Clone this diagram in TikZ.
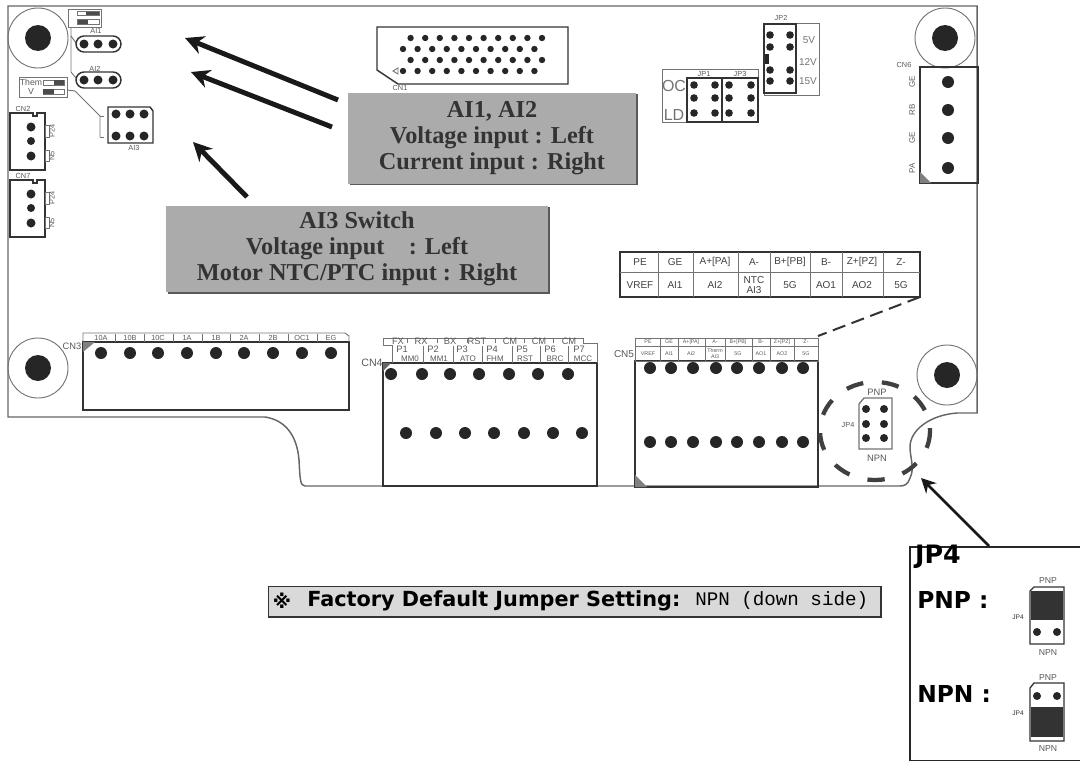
\documentclass[tikz,border=0pt]{standalone}
\usepackage{fontspec}
\setmainfont{Liberation Sans}
\newfontfamily\calloutfont{Liberation Serif}
\newfontfamily\headfont{DejaVu Sans}
\newfontfamily\plainfont{Liberation Mono}
\usetikzlibrary{arrows.meta}
\tikzset{
  trace/.style={draw=black!80, line width=1.1},
  thintrace/.style={draw=black!55, line width=0.7},
  pin/.style={fill=black!85},
  bigarrow/.style={draw=black!90, line width=3.7, -{Stealth[length=14, width=14]}},
  callout/.style={fill=black!33, text=black!80, font=\calloutfont\bfseries\fontsize{18.2}{19.5}\selectfont, align=center, inner sep=0},
  tiny/.style={text=black!65, inner sep=0, font=\fontsize{5.5}{6}\selectfont, align=center},
  cell/.style={text=black!75, inner sep=0, font=\fontsize{7.5}{8}\selectfont, align=center},
  heavy/.style={text=black, inner sep=0, font=\headfont\bfseries\fontsize{17.5}{21}\selectfont}
}
\begin{document}
\begin{tikzpicture}[x=0.75pt,y=0.75pt,yscale=-1,xscale=1]
\useasboundingbox (0,0) rectangle (1080,760);

%Board outline
\draw [trace, draw=black!60]  (8,6) -- (977,6) -- (977,413) -- (957,413) .. controls (930,415) and (910,430) .. (910,447) .. controls (910,458) and (915,468) .. (910,478) .. controls (908,484) and (905,486) .. (900,486) -- (305,486) .. controls (300,486) and (300,478) .. (299,460) .. controls (297,435) and (285,420) .. (265,417) -- (8,417) -- cycle ;

%Mounting holes
\foreach \x/\y in {38/38, 945/38, 38/368, 947/375} {
  \draw [thintrace] (\x,\y) circle [radius=30];
  \fill [pin] (\x,\y) circle [radius=13];
}

%Analog switches, top left
\draw [thintrace] (68,9) rectangle (101,27);
\fill [black!70] (86,11) rectangle (99,15);
\fill [black!70] (77,19) rectangle (88,24);
\draw [thintrace] (77,11) rectangle (99,15);
\draw [thintrace] (77,19) rectangle (99,24);
\draw [thintrace] (71,27) -- (71,72) -- (76,78);
\draw [thintrace] (71,36) -- (76,43);
\draw [trace, rounded corners=6] (76,36) rectangle (121,52);
\draw [trace, rounded corners=6] (76,72) rectangle (121,88);
\foreach \x in {84,98,113} {
  \fill [pin] (\x,44) circle [radius=4.5];
  \fill [pin] (\x,80) circle [radius=4.5];
}
\node (ai1label) [tiny] at (96,31) {AI1};
\node (ai2label) [tiny] at (95,69) {AI2};

%Therm switch and AI3
\draw [thintrace] (19,77) rectangle (67,97);
\node (thermlabel) [tiny, font=\fontsize{6.5}{6.5}\selectfont] at (31,87) {Them\\V};
\draw [thintrace] (43,80) rectangle (64,85);
\draw [thintrace] (43,89) rectangle (64,94);
\fill [black!70] (54,80) rectangle (64,85);
\fill [black!70] (43,89) rectangle (54,94);
\draw [thintrace] (67,90) -- (75,91) -- (100,116) -- (100,137);
\draw [thintrace] (100,116) -- (104,116);
\draw [thintrace] (100,137) -- (104,137);
\draw [trace] (108,107) -- (150,107) -- (153,111) -- (153,143) -- (108,143) -- cycle;
\foreach \x in {116,130,144} {
  \fill [pin] (\x,114) circle [radius=4.5];
  \fill [pin] (\x,136) circle [radius=4.5];
}
\node (ai3label) [tiny] at (134,148) {AI3};

%CN2 and CN7
\foreach \y/\t in {113/CN2, 180/CN7} {
  \draw [trace] (10,\y) -- (33,\y) -- (33,\y+3) -- (37,\y+3) -- (37,\y) -- (45,\y) -- (45,\y+57) -- (10,\y+57) -- cycle;
  \draw [thintrace] (45,\y+12) rectangle (49,\y+24);
  \draw [thintrace] (45,\y+37) rectangle (49,\y+48);
  \fill [pin] (31,\y+14) circle [radius=4.5];
  \fill [pin] (31,\y+28) circle [radius=4];
  \fill [pin] (31,\y+43) circle [radius=4.5];
  \node (label\t) [tiny] at (23,\y-4) {\t};
  \node (upper\t) [tiny, rotate=90] at (52,\y+18) {P24};
  \node (lower\t) [tiny, rotate=90] at (52,\y+43) {N5};
}

%CN1
\draw [trace] (377,27) -- (568,27) -- (568,84) -- (398,84) -- (377,70) -- cycle;
\foreach \n in {0,...,9} {
  \fill [pin] (410.6+14.6*\n,38) circle [radius=3.2];
  \fill [pin] (403+14.6*\n,49) circle [radius=3.2];
  \fill [pin] (410.6+14.6*\n,60) circle [radius=3.2];
  \fill [pin] (403+14.6*\n,71) circle [radius=3.2];
}
\draw [thintrace] (393,71) -- (398,68) -- (398,74) -- cycle;
\node (cn1label) [tiny] at (400,88) {CN1};

%JP1 and JP3
\draw [thintrace] (662,69) rectangle (758,122);
\draw [trace] (687,78) rectangle (722,122);
\draw [trace] (722,78) rectangle (758,122);
\foreach \x in {694,715,729,751} {
  \foreach \y in {85,98,113} {
    \fill [pin] (\x,\y) circle [radius=3.8];
  }
}
\node (oclabel) [text=black!55, inner sep=0, font=\fontsize{12}{12}\selectfont] at (674,86) {OC};
\node (ldlabel) [text=black!55, inner sep=0, font=\fontsize{12}{12}\selectfont] at (674,115) {LD};
\node (jp1label) [tiny] at (704,74) {JP1};
\node (jp3label) [tiny] at (740,74) {JP3};

%JP2
\draw [thintrace] (764,23) rectangle (819,95);
\draw [trace] (764,24) rectangle (796,93);
\foreach \x in {770,790} {
  \foreach \y in {35,47,70,81} {
    \fill [pin] (\x,\y) circle [radius=3.8];
  }
}
\fill [black!85] (765,54) rectangle (769,64);
\node (jp2label) [tiny] at (781,18) {JP2};
\node (v5label) [cell, text=black!55] at (809,40) {5V};
\node (v12label) [cell, text=black!55] at (808,62) {12V};
\node (v15label) [cell, text=black!55] at (808,81) {15V};

%CN6
\draw [trace] (920,67) rectangle (978,183);
\fill [black!50] (920,172) -- (931,183) -- (920,183) -- cycle;
\foreach \y/\t in {82/GE, 110/RB, 138/GE, 168/PA} {
  \fill [pin] (948,\y) circle [radius=6];
  \node (label\y) [tiny, rotate=90, font=\fontsize{6}{6}\selectfont] at (912,\y) {\t};
}
\node (cn6label) [tiny] at (904,65) {CN6};

%CN3
\draw [trace] (83,342) rectangle (349,410);
\draw [thintrace] (83,342) -- (83,333) -- (345,333) -- (349,336) -- (349,342);
\fill [black!50] (83,342) -- (95,342) -- (83,352) -- cycle;
\foreach \n/\x/\t in {1/101/10A, 2/130/10B, 3/158/10C, 4/187/1A, 5/216/1B, 6/244/2A, 7/273/2B, 8/302/OC1, 9/331/EG} {
  \fill [pin] (\x,353) circle [radius=6];
  \node (cnthree\n) [tiny] at (\x,337.5) {\t};
}
\foreach \x in {115,144,173,202,230,259,288,317} {
  \draw [thintrace] (\x,334) -- (\x,342);
}
\node (cn3label) [tiny, font=\fontsize{7}{7}\selectfont] at (72,346) {CN3};

%CN4
\draw [trace] (383,363) rectangle (597,486);
\draw [thintrace] (383,338) -- (583,338) -- (583,343) -- (597,343) -- (597,363);
\draw [thintrace] (383,338) -- (383,345) -- (392,345) -- (392,363);
\fill [black!60] (383,363) -- (391,363) -- (383,371) -- cycle;
\foreach \x in {407,437,467,495,524,553} {
  \draw [thintrace] (\x,338) -- (\x,343);
}
\foreach \x in {423,453,482,512,540,568} {
  \draw [thintrace] (\x,346) -- (\x,363);
}
\foreach \n/\x/\l/\t in {1/391/398/FX, 2/422/421/RX, 3/450/450/BX, 4/479/477/RST, 5/509/510/CM, 6/538/539/CM, 7/568/569/CM} {
  \fill [pin] (\x,374) circle [radius=6];
  \node (cnfourtop\n) [tiny, font=\fontsize{7}{7}\selectfont] at (\l,341.5) {\t};
}
\foreach \n/\x/\m/\l/\t/\s in {1/406/402/410/P1/MM0, 2/436/433/439/P2/MM1, 3/465/462/468/P3/ATO, 4/494/492/495/P4/FHM, 5/524/522/525/P5/RST, 6/553/550/555/P6/BRC, 7/582/579/583/P7/MCC} {
  \fill [pin] (\x,433) circle [radius=6];
  \node (cnfourmid\n) [tiny, font=\fontsize{7}{7}\selectfont] at (\m,349) {\t};
  \node (cnfourlow\n) [tiny, font=\fontsize{6}{6}\selectfont] at (\l,358.5) {\s};
}
\node (cn4label) [tiny, font=\fontsize{8}{8}\selectfont] at (372,363) {CN4};

%CN5
\draw [trace] (635,361) rectangle (818,487);
\draw [thintrace] (635,338) rectangle (818,361);
\draw [thintrace] (635,346) -- (818,346);
\fill [black!50] (635,475) -- (647,487) -- (635,487) -- cycle;
\foreach \x in {660,678,705,725,752,770,794} {
  \draw [thintrace] (\x,338) -- (\x,361);
}
\foreach \x in {650,671,693,716,737,759,782,803} {
  \fill [pin] (\x,368) circle [radius=6];
  \fill [pin] (\x,442) circle [radius=6];
}
\foreach \n/\x/\t/\s in {1/648/PE/VREF, 2/669/GE/AI1, 3/691/A+[PA]/AI2, 4/715/A-/{Therm\\AI3}, 5/738/B+[PB]/5G, 6/761/B-/AO1, 7/782/Z+[PZ]/AO2, 8/806/Z-/5G} {
  \node (cnfivetop\n) [tiny, font=\fontsize{4}{4}\selectfont] at (\x,342) {\t};
  \node (cnfivelow\n) [tiny, font=\fontsize{4}{4.5}\selectfont] at (\x,353.5) {\s};
}
\node (cn5label) [tiny, font=\fontsize{7.5}{8}\selectfont] at (624,354) {CN5};
\coordinate (cn5corner) at (818,336);

%Terminal table
\draw [trace] (620,252) rectangle (920,297);
\draw [thintrace] (620,272) -- (920,272);
\foreach \x in {658,693,738,770,810,842,883} {
  \draw [thintrace] (\x,252) -- (\x,297);
}
\foreach \n/\x/\t/\s in {1/640/PE/VREF, 2/675/GE/AI1, 3/715/A+[PA]/AI2, 4/754/A-/{NTC\\AI3}, 5/790/B+[PB]/5G, 6/826/B-/AO1, 7/862/Z+[PZ]/AO2, 8/901/Z-/5G} {
  \node (tabletop\n) [cell] at (\x,262) {\t};
  \node (tablelow\n) [cell] at (\x,285) {\s};
}
\coordinate (tablecorner) at (920,297);
\draw [trace, line width=1.5, dash pattern=on 10 off 5] (tablecorner) -- (cn5corner);

%JP4
\draw [thintrace, line width=1] (859,404) -- (864,398) -- (892,398) -- (892,449) -- (859,449) -- cycle;
\foreach \x in {866,884} {
  \foreach \y in {409,424,438} {
    \fill [pin] (\x,\y) circle [radius=4];
  }
}
\node (pnplabel) [tiny, font=\fontsize{7}{7}\selectfont] at (877,392) {PNP};
\node (npnlabel) [tiny, font=\fontsize{7}{7}\selectfont] at (877,458) {NPN};
\node (jp4label) [tiny] at (848,425) {JP4};
\draw [black!75, line width=3.2, dash pattern=on 13 off 14] (875,431) ellipse [x radius=55, y radius=49];

%Callouts
\fill [black!65] (350,94) rectangle (638,185);
\node (ai12box) [callout, minimum width=216pt, minimum height=68pt] at (492,138.5) {AI1, AI2\\Voltage input : Left\\Current input : Right};
\fill [black!65] (168,207) rectangle (550,294);
\node (ai3box) [callout, minimum width=286.5pt, minimum height=65pt] at (357,249) {AI3 Switch\\Voltage input \ \ \ : Left\\Motor NTC/PTC input : Right};

\coordinate (tailone) at (338,100);
\coordinate (tipone) at (185,38);
\coordinate (tailtwo) at (332,127);
\coordinate (tiptwo) at (191,72);
\coordinate (tailthree) at (247,197);
\coordinate (tipthree) at (193,142);
\draw [bigarrow] (tailone) -- (tipone);
\draw [bigarrow] (tailtwo) -- (tiptwo);
\draw [bigarrow] (tailthree) -- (tipthree);

%Factory note
\node (factorybox) [draw=black!80, fill=black!15, line width=1, minimum width=459.5pt, minimum height=23pt, inner sep=0] at (574.5,601.5) {};
\node (factorymark) [heavy, font=\headfont\bfseries\fontsize{14}{16}\selectfont] at (282,601) {※};
\node (factorytext) [heavy, anchor=west, font=\headfont\bfseries\fontsize{15.6}{18}\selectfont] at (307,601) {Factory Default Jumper Setting:};
\node (factoryvalue) [anchor=west, inner sep=0, font=\plainfont\fontsize{14.4}{16}\selectfont] at (695,601) {NPN (down side)};

%JP4 detail
\node (detailbox) [draw=black!85, line width=1.3, anchor=north west, minimum width=135pt, minimum height=160.5pt, inner sep=0] at (909,546) {};
\coordinate (detailtail) at (989,546);
\coordinate (detailtip) at (921,478);
\draw [draw=black!90, line width=2, -{Stealth[length=11, width=11]}] (detailtail) -- (detailtip);
\node (detailtitle) [heavy, font=\headfont\bfseries\fontsize{19}{21}\selectfont] at (938,557) {JP4};
\node (detailpnp) [heavy, anchor=west] at (917,600) {PNP :};
\node (detailnpn) [heavy, anchor=west] at (917,694) {NPN :};

\draw [trace, line width=1] (1030,591) -- (1034,587) -- (1064,587) -- (1064,644) -- (1030,644) -- cycle;
\fill [black!80] (1031,591) rectangle (1063,620);
\fill [pin] (1037,632) circle [radius=4];
\fill [pin] (1057,632) circle [radius=4];
\node (pnpup) [tiny, font=\fontsize{6.5}{7}\selectfont] at (1048,581) {PNP};
\node (npnup) [tiny, font=\fontsize{6.5}{7}\selectfont] at (1048,653) {NPN};
\node (jp4up) [tiny, font=\fontsize{5}{5}\selectfont, text=black!80] at (1018,617) {JP4};

\draw [trace, line width=1] (1030,688) -- (1034,683) -- (1064,683) -- (1064,741) -- (1030,741) -- cycle;
\fill [black!80] (1031,707) rectangle (1063,737);
\fill [pin] (1037,696) circle [radius=4];
\fill [pin] (1057,696) circle [radius=4];
\node (pnpdown) [tiny, font=\fontsize{6.5}{7}\selectfont] at (1048,678) {PNP};
\node (npndown) [tiny, font=\fontsize{6.5}{7}\selectfont] at (1048,749) {NPN};
\node (jp4down) [tiny, font=\fontsize{5}{5}\selectfont, text=black!80] at (1018,713) {JP4};

\end{tikzpicture}
\end{document}
